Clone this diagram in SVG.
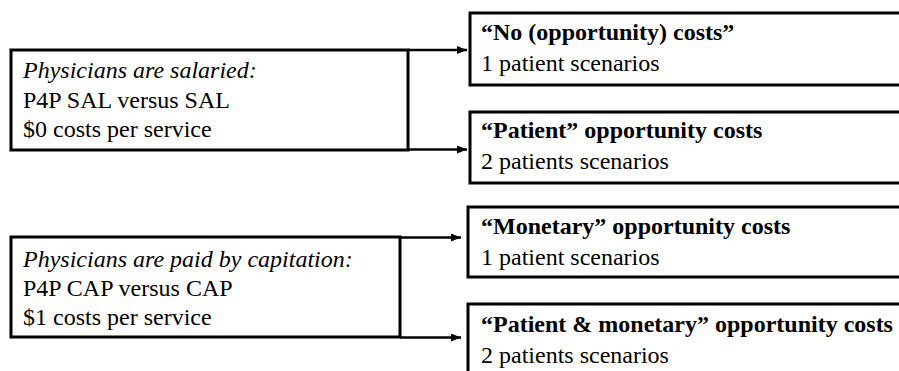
<svg xmlns="http://www.w3.org/2000/svg" width="899" height="371" viewBox="0 0 899 371">
<defs>
<style>
.box{fill:#fff;stroke:#000;stroke-width:3}
text{font-family:'Liberation Serif','Times New Roman',serif;font-size:24px;fill:#000}
.i{font-style:italic}
.b{font-weight:bold}
.c{stroke:#000;stroke-width:2.5;fill:none}
</style>
<marker id="ah" markerWidth="10" markerHeight="8" refX="10" refY="4" orient="auto" markerUnits="userSpaceOnUse">
<path d="M0,0 L10,4 L0,8 Z" fill="#000"/>
</marker>
</defs>
<rect width="899" height="371" fill="#fff"/>
<g id="connectors">
<line class="c" x1="408" y1="50" x2="467" y2="50" marker-end="url(#ah)"/>
<line class="c" x1="408" y1="149.5" x2="467" y2="149.5" marker-end="url(#ah)"/>
<line class="c" x1="400" y1="237.5" x2="461" y2="237.5" marker-end="url(#ah)"/>
<line class="c" x1="400" y1="337.5" x2="461" y2="337.5" marker-end="url(#ah)"/>
</g>
<g id="salaried">
<rect class="box" x="11" y="50" width="397" height="100"/>
<text class="i" x="23" y="78">Physicians are salaried:</text>
<text x="23" y="108">P4P SAL versus SAL</text>
<text x="23" y="137">$0 costs per service</text>
</g>
<g id="capitation">
<rect class="box" x="11" y="237" width="389" height="100"/>
<text class="i" x="23" y="267">Physicians are paid by capitation:</text>
<text x="23" y="296">P4P CAP versus CAP</text>
<text x="23" y="325">$1 costs per service</text>
</g>
<g id="no-costs">
<rect class="box" x="470" y="13" width="440" height="72"/>
<text class="b" x="481" y="40">“No (opportunity) costs”</text>
<text x="481" y="71">1 patient scenarios</text>
</g>
<g id="patient-costs">
<rect class="box" x="470" y="112" width="440" height="71"/>
<text class="b" x="481" y="138">“Patient” opportunity costs</text>
<text x="481" y="169">2 patients scenarios</text>
</g>
<g id="monetary-costs">
<rect class="box" x="468" y="207" width="440" height="70"/>
<text class="b" x="481" y="234">“Monetary” opportunity costs</text>
<text x="481" y="265">1 patient scenarios</text>
</g>
<g id="patient-monetary-costs">
<rect class="box" x="468" y="304" width="440" height="90"/>
<text class="b" x="481" y="332">“Patient &amp; monetary” opportunity costs</text>
<text x="481" y="363">2 patients scenarios</text>
</g>
</svg>
